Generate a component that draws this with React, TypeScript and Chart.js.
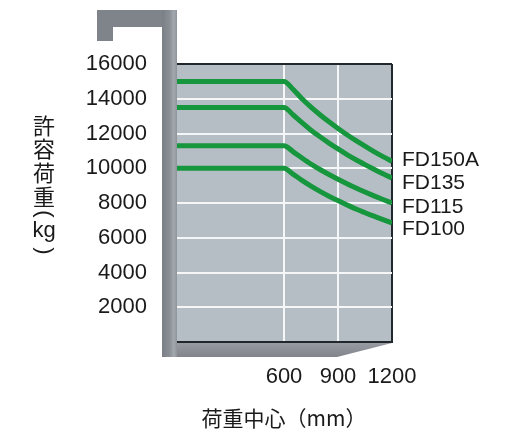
import React, { useEffect, useRef } from 'react';
import { Chart, registerables } from 'chart.js';

Chart.register(...registerables);

// ---- data ----
const loadCenters = [0, 600, 650, 700, 750, 800, 850, 900, 950, 1000, 1050, 1100, 1150, 1200];
const seriesNames = ['FD150A', 'FD135', 'FD115', 'FD100'];
const fd150a = [15000, 15000, 14550, 14000, 13520, 13080, 12670, 12290, 11930, 11590, 11270, 10960, 10670, 10400];
const fd135 = [13500, 13500, 13080, 12620, 12190, 11810, 11450, 11110, 10790, 10490, 10210, 9940, 9680, 9440];
const fd115 = [11300, 11300, 10960, 10590, 10240, 9930, 9640, 9370, 9110, 8860, 8630, 8410, 8200, 8000];
const fd100 = [10000, 10000, 9660, 9300, 8970, 8670, 8390, 8140, 7890, 7650, 7440, 7240, 7040, 6850];
const xTickLabels = [600, 900, 1200];
const xWhiteGrid = [600, 900];
const yTitleParts = ['許', '容', '荷', '重', '(', 'kg', ')'];
const xTitle = '荷重中心（mm）';

const LATIN = '"Liberation Sans", Arial, sans-serif';
const CJK = '"Noto Sans CJK JP", "Noto Sans CJK SC", sans-serif';
const GREEN = '#16963d';
const DARK = '#22272b';

const decor = {
  id: 'decor',
  beforeDraw(chart: any) {
    const { ctx, chartArea: a } = chart;
    ctx.save();
    ctx.fillStyle = '#b6bec5';
    ctx.fillRect(a.left, a.top, a.right - a.left, a.bottom - a.top);
    ctx.restore();
  },
  afterDatasetsDraw(chart: any) {
    const { ctx, chartArea: a } = chart;
    ctx.save();
    const barL = a.left - 14;
    const barR = a.left + 1;
    const floorB = a.bottom + 15;
    // floor
    const fg = ctx.createLinearGradient(0, a.bottom, 0, floorB);
    fg.addColorStop(0, '#9a9ea4');
    fg.addColorStop(1, '#81858b');
    ctx.fillStyle = fg;
    ctx.beginPath();
    ctx.moveTo(barL, a.bottom + 1);
    ctx.lineTo(a.right, a.bottom + 1);
    ctx.lineTo(a.right - 55, floorB);
    ctx.lineTo(barL, floorB);
    ctx.closePath();
    ctx.fill();
    // vertical bar
    const vg = ctx.createLinearGradient(barL, 0, barR, 0);
    vg.addColorStop(0, '#7a7e85');
    vg.addColorStop(0.5, '#8a8e95');
    vg.addColorStop(0.8, '#a3a8ae');
    vg.addColorStop(1, '#8e9399');
    ctx.fillStyle = vg;
    ctx.fillRect(barL, 10, barR - barL, floorB - 10);
    // top bar and tip
    ctx.fillStyle = '#7f838a';
    ctx.fillRect(97, 10, barR - 97, 17);
    ctx.fillRect(97, 27, 16, 14);
    ctx.fillStyle = vg;
    ctx.fillRect(barL, 10, barR - barL, 17);

    // series labels
    ctx.fillStyle = '#1a1a1a';
    ctx.font = `21px ${LATIN}`;
    ctx.textAlign = 'left';
    ctx.textBaseline = 'middle';
    const labelY = [160, 183.5, 207, 229];
    seriesNames.forEach((n, i) => ctx.fillText(n, a.right + 10, labelY[i]));

    // vertical y title (parentheses rotated to vertical form)
    ctx.textAlign = 'center';
    const ty = [126, 149, 173, 196.5, 214, 231, 251];
    yTitleParts.forEach((t, i) => {
      if (t === '(' || t === ')') {
        ctx.save();
        ctx.translate(44, ty[i]);
        ctx.rotate(Math.PI / 2);
        ctx.font = `22px ${LATIN}`;
        ctx.fillText(t, 0, 0);
        ctx.restore();
      } else {
        ctx.font = t === 'kg' ? `22px ${LATIN}` : `22px ${CJK}`;
        ctx.fillText(t, 44, ty[i]);
      }
    });
    ctx.restore();
  },
};

function makeSeries(vals: number[]) {
  return loadCenters.map((x, i) => ({ x, y: vals[i] }));
}

export default function App() {
  const ref = useRef<HTMLCanvasElement | null>(null);
  useEffect(() => {
    if (!ref.current) return;
    const allSeries = [fd150a, fd135, fd115, fd100];
    const chart = new Chart(ref.current, {
      type: 'line',
      data: {
        datasets: allSeries.map((s, i) => ({
          label: seriesNames[i],
          data: makeSeries(s),
          borderColor: GREEN,
          borderWidth: 5,
          pointRadius: 0,
          cubicInterpolationMode: 'monotone',
          fill: false,
        })),
      },
      options: {
        responsive: false,
        animation: false,
        devicePixelRatio: 1,
        layout: { padding: { left: 0, top: 64, right: 120, bottom: 0 } },
        plugins: { legend: { display: false }, tooltip: { enabled: false } },
        scales: {
          x: {
            type: 'linear',
            min: 0,
            max: 1200,
            afterFit: (axis: any) => { axis.height = 92; },
            ticks: {
              stepSize: 300,
              autoSkip: false,
              maxRotation: 0,
              padding: 22,
              color: '#1a1a1a',
              font: { family: LATIN, size: 22 },
              callback: (v: any) => (xTickLabels.includes(Number(v)) ? String(v) : ''),
            },
            grid: {
              drawTicks: false,
              lineWidth: 2,
              color: (c: any) => {
                const v = c.tick?.value;
                if (v === 1200) return DARK;
                if (xWhiteGrid.includes(v)) return '#f4f6f7';
                return 'rgba(0,0,0,0)';
              },
            },
            border: { display: true, color: DARK, width: 2 },
            title: {
              display: true,
              text: xTitle,
              color: '#1a1a1a',
              font: { family: CJK, size: 21 },
              padding: { top: 0, bottom: 3 },
            },
          },
          y: {
            min: 0,
            max: 16000,
            afterFit: (axis: any) => { axis.width = 176; },
            ticks: {
              stepSize: 2000,
              padding: 29,
              color: '#1a1a1a',
              font: { family: LATIN, size: 22 },
              callback: (v: any) => (Number(v) === 0 ? '' : String(v)),
            },
            grid: {
              drawTicks: false,
              lineWidth: 2,
              color: (c: any) => {
                const v = c.tick?.value;
                if (v === 16000) return DARK;
                if (v > 0) return '#f4f6f7';
                return 'rgba(0,0,0,0)';
              },
            },
            border: { display: false },
          },
        },
      },
      plugins: [decor],
    } as any);
    return () => chart.destroy();
  }, []);
  return (
    <div style={{ position: 'absolute', left: 0, top: 0, width: 512, height: 434, background: '#fff' }}>
      <canvas ref={ref} width={512} height={434} style={{ display: 'block' }} />
    </div>
  );
}
